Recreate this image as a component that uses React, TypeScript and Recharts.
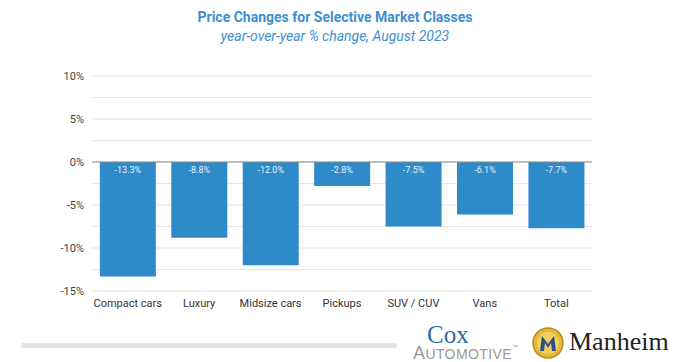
import { BarChart, Bar, XAxis, YAxis, CartesianGrid, ReferenceLine, LabelList } from "recharts";

const categories = ["Compact cars", "Luxury", "Midsize cars", "Pickups", "SUV / CUV", "Vans", "Total"];
const changes = [-13.3, -8.8, -12.0, -2.8, -7.5, -6.1, -7.7];
const yTicks = [-15, -12.5, -10, -7.5, -5, -2.5, 0, 2.5, 5, 7.5, 10];

const data = categories.map((name, i) => ({ name, value: changes[i] }));

const BarLabel = (props: any) => {
  const { x, y, width, height, value } = props;
  const top = Math.min(y, y + height);
  return (
    <text x={x + width / 2} y={top + 11} textAnchor="middle" fill="#e8f2fa" fontSize={9}>
      {`${value.toFixed(1)}%`}
    </text>
  );
};

export default function App() {
  return (
    <div
      style={{
        position: "absolute",
        left: 0,
        top: 0,
        width: 673,
        height: 362,
        background: "#fff",
        fontFamily: "Roboto, sans-serif",
        overflow: "hidden",
      }}
    >
      <div style={{ position: "absolute", top: 9, left: 0, width: 670, textAlign: "center", color: "#3d8fd0", fontSize: 14, fontWeight: 700 }}>
        Price Changes for Selective Market Classes
      </div>
      <div style={{ position: "absolute", top: 28, left: 0, width: 670, textAlign: "center", color: "#3d8fd0", fontSize: 14, fontStyle: "italic" }}>
        year-over-year % change, August 2023
      </div>
      <BarChart
        width={673}
        height={362}
        data={data}
        margin={{ top: 76, right: 81, bottom: 41, left: 0 }}
        barCategoryGap="11%"
      >
        <CartesianGrid vertical={false} stroke="#e5e5e5" />
        <XAxis
          dataKey="name"
          tickLine={false}
          axisLine={false}
          height={30}
          tick={{ fontSize: 11, fill: "#333" }}
        />
        <YAxis
          domain={[-15, 10]}
          ticks={yTicks}
          interval={0}
          width={92}
          tickLine={false}
          axisLine={false}
          tick={{ fontSize: 11, fill: "#444" }}
          tickFormatter={(v: number) => (v % 5 === 0 ? `${v}%` : "")}
        />
        <ReferenceLine y={0} stroke="#8a8a8a" />
        <Bar dataKey="value" fill="#2d8bc9" isAnimationActive={false}>
          <LabelList dataKey="value" content={BarLabel} />
        </Bar>
      </BarChart>
      <div style={{ position: "absolute", left: 21, top: 343, width: 376, height: 5, borderRadius: 3, background: "#e4e4e4" }} />
      <div style={{ position: "absolute", left: 427, top: 322, fontFamily: "'Liberation Serif', serif", fontSize: 25, color: "#2d6ba3", lineHeight: 1 }}>
        Cox
      </div>
      <div style={{ position: "absolute", left: 413, top: 344, fontFamily: "'Liberation Sans', sans-serif", fontSize: 14, color: "#9a9a9a", lineHeight: 1, letterSpacing: 0.4 }}>
        <span style={{ fontSize: 18 }}>A</span>UTOMOTIVE<span style={{ fontSize: 6, verticalAlign: "top" }}>™</span>
      </div>
      <svg style={{ position: "absolute", left: 532, top: 327 }} width={32} height={32}>
        <circle cx={16} cy={16} r={15} fill="#e3b93a" stroke="#b98d1c" strokeWidth={1.5} />
        <circle cx={16} cy={16} r={11} fill="#f2d060" />
        <path d="M8 24 L10 9 L16 17 L22 9 L24 24 L20 24 L19 16 L16 21 L13 16 L12 24 Z" fill="#2c4f8c" />
      </svg>
      <div style={{ position: "absolute", left: 569, top: 329, fontFamily: "'Liberation Serif', serif", fontSize: 26, color: "#222", lineHeight: 1 }}>
        Manheim
      </div>
    </div>
  );
}
